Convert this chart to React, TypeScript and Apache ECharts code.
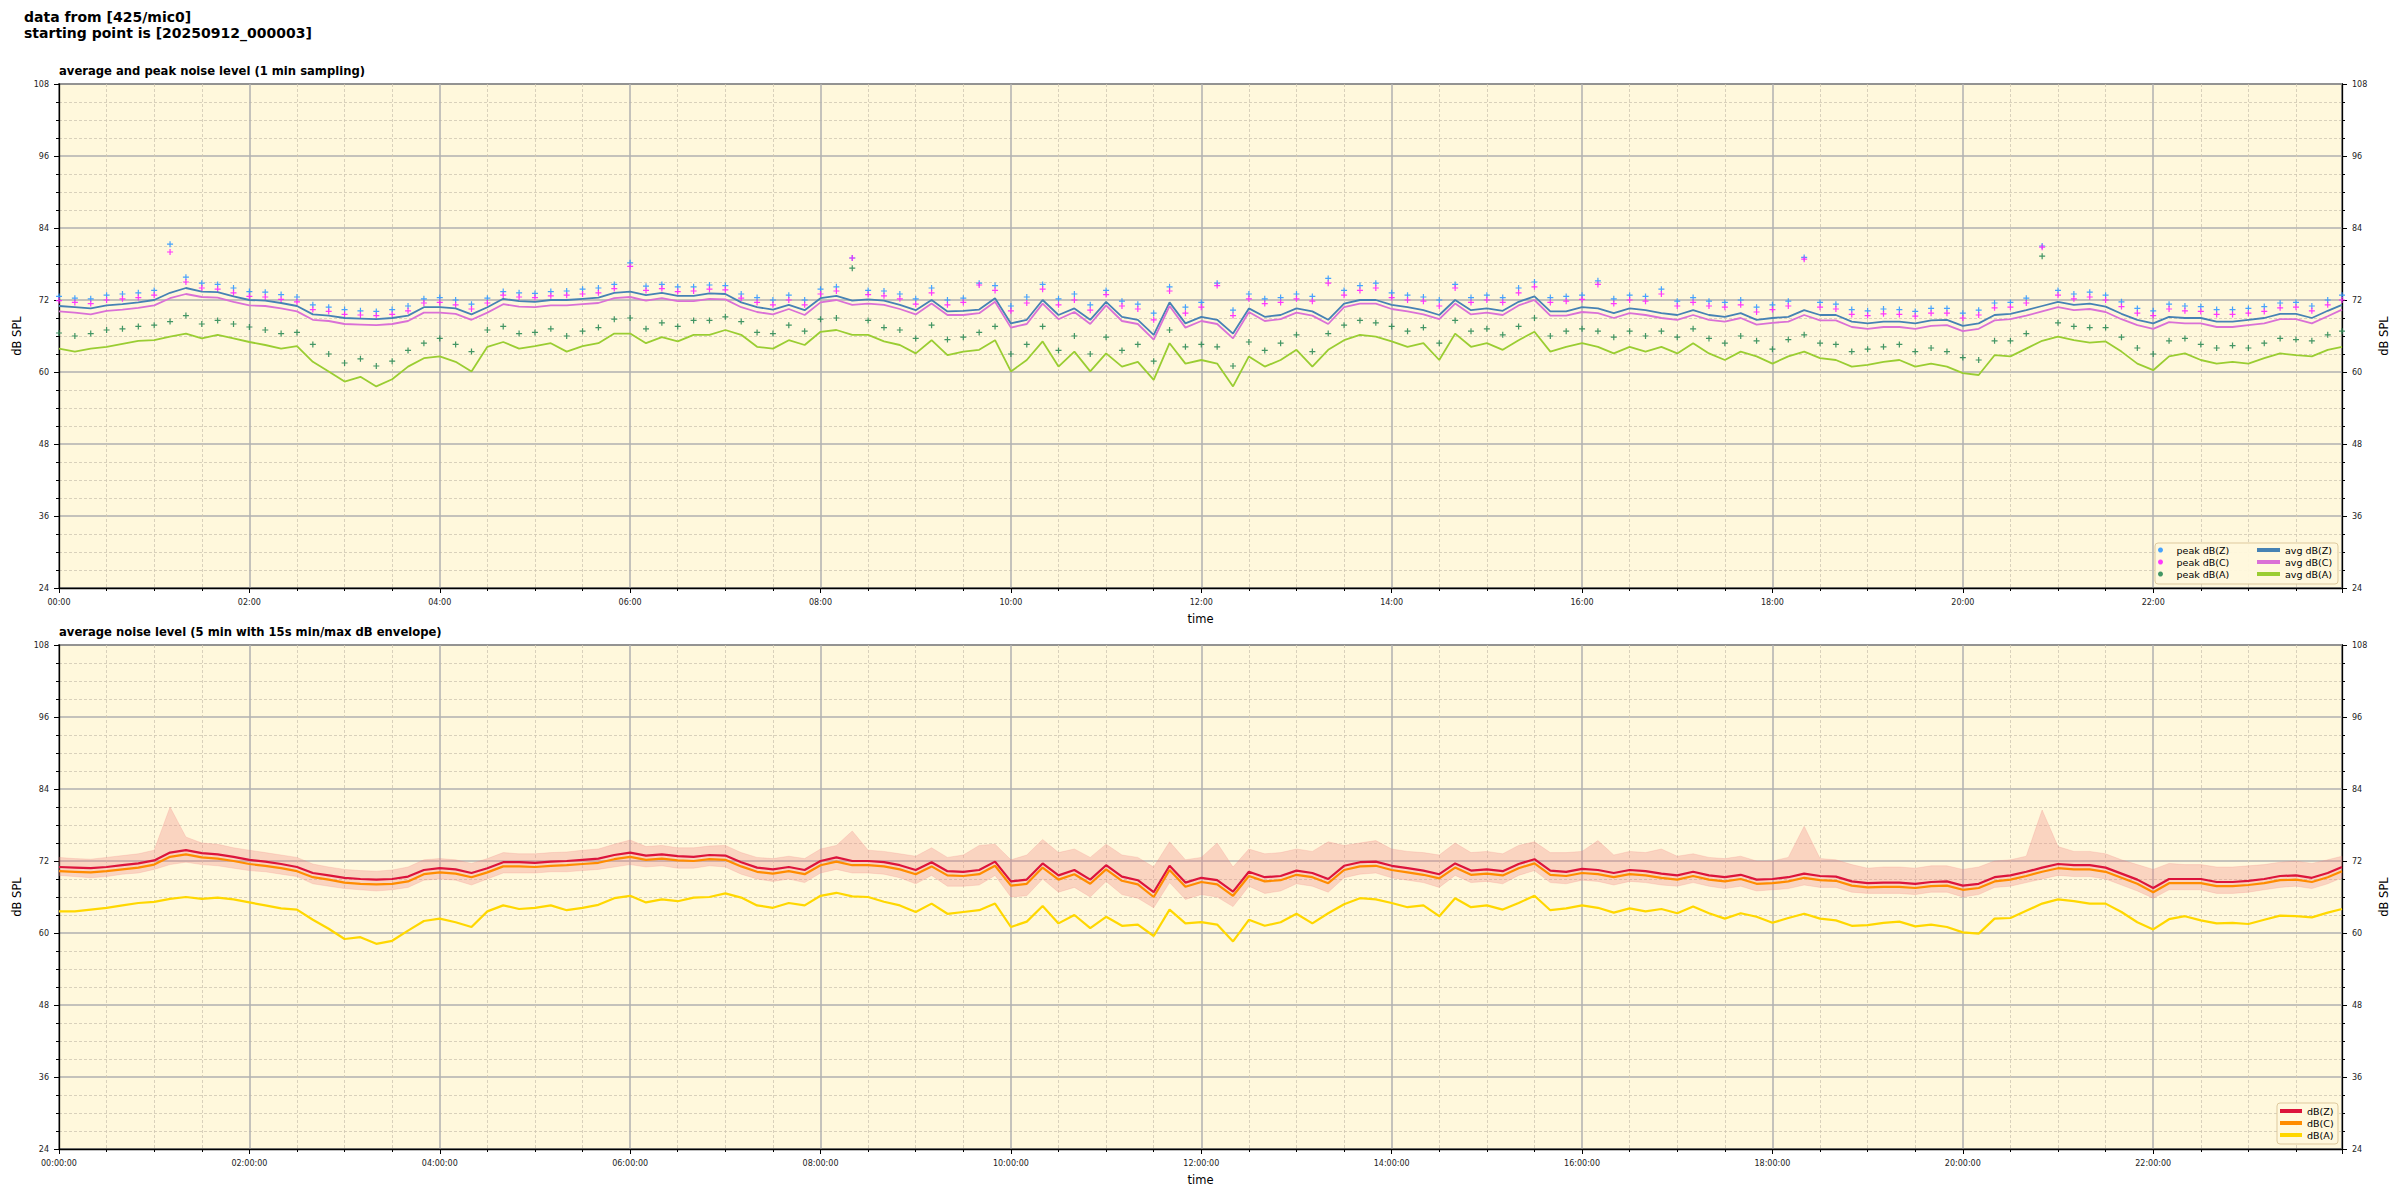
import React, { useEffect, useRef } from "react";
import * as echarts from "echarts";

// ---- data (10-minute steps, 00:00 .. 24:00) ----
const avgZ = [
  71.0, 70.8, 70.6, 71.1, 71.3, 71.6,
  72.0, 73.2, 74.0, 73.4, 73.3, 72.6,
  72.0, 71.9, 71.5, 71.0, 69.6, 69.4,
  69.0, 68.9, 68.8, 69.0, 69.4, 70.8,
  70.8, 70.6, 69.6, 70.8, 72.2, 71.8,
  71.7, 72.0, 72.0, 72.2, 72.4, 73.2,
  73.4, 72.8, 73.2, 72.7, 72.7, 73.1,
  73.0, 71.6, 70.8, 70.4, 71.2, 70.3,
  72.3, 72.7, 71.9, 72.1, 71.9, 71.2,
  70.3, 72.0, 70.1, 70.2, 70.4, 72.3,
  68.1, 68.7, 72.0, 69.5, 70.6, 68.7,
  71.7, 69.2, 68.7, 66.2, 71.6, 68.1,
  69.2, 68.7, 66.4, 70.6, 69.2, 69.5,
  70.6, 70.1, 68.7, 71.4, 72.0, 72.0,
  71.2, 70.8, 70.3, 69.5, 72.0, 70.3,
  70.6, 70.2, 71.7, 72.6, 70.1, 70.1,
  70.8, 70.6, 69.8, 70.6, 70.3, 69.8,
  69.5, 70.3, 69.5, 69.2, 69.8, 68.7,
  69.0, 69.2, 70.3, 69.5, 69.5, 68.4,
  68.1, 68.4, 68.4, 68.1, 68.6, 68.7,
  67.7, 68.1, 69.5, 69.7, 70.3, 71.0,
  71.7, 71.2, 71.4, 70.9, 69.7, 68.7,
  68.1, 69.2, 69.0, 69.0, 68.4, 68.4,
  68.7, 69.0, 69.7, 69.7, 69.0, 70.2,
  71.2,
];
const avgC = [
  70.1, 69.9, 69.6, 70.2, 70.4, 70.7,
  71.1, 72.3, 73.0, 72.5, 72.4, 71.7,
  71.1, 71.0, 70.6, 70.1, 68.7, 68.5,
  68.0, 67.9, 67.8, 68.0, 68.5, 69.9,
  69.9, 69.7, 68.7, 69.9, 71.3, 70.9,
  70.8, 71.1, 71.1, 71.3, 71.5, 72.3,
  72.5, 71.9, 72.3, 71.8, 71.8, 72.2,
  72.1, 70.8, 70.0, 69.6, 70.5, 69.5,
  71.6, 72.0, 71.2, 71.4, 71.2, 70.5,
  69.6, 71.4, 69.5, 69.5, 69.8, 71.7,
  67.4, 68.0, 71.4, 68.8, 70.0, 68.0,
  71.1, 68.5, 68.0, 65.4, 71.0, 67.4,
  68.5, 68.0, 65.6, 70.0, 68.5, 68.8,
  69.9, 69.4, 68.0, 70.8, 71.4, 71.4,
  70.5, 70.1, 69.6, 68.8, 71.4, 69.6,
  69.9, 69.5, 71.1, 72.0, 69.4, 69.4,
  70.0, 69.8, 69.0, 69.8, 69.5, 69.0,
  68.7, 69.5, 68.7, 68.4, 69.0, 67.9,
  68.2, 68.4, 69.5, 68.6, 68.6, 67.5,
  67.2, 67.5, 67.5, 67.2, 67.7, 67.8,
  66.8, 67.2, 68.6, 68.8, 69.4, 70.1,
  70.8, 70.3, 70.5, 70.0, 68.8, 67.8,
  67.2, 68.3, 68.1, 68.1, 67.5, 67.5,
  67.8, 68.1, 68.8, 68.8, 68.1, 69.3,
  70.4,
];
const avgA = [
  63.9, 63.4, 63.9, 64.2, 64.7, 65.2,
  65.3, 65.9, 66.4, 65.6, 66.2, 65.6,
  65.0, 64.5, 63.9, 64.3, 61.7, 60.1,
  58.4, 59.2, 57.6, 58.8, 60.9, 62.3,
  62.6, 61.7, 60.1, 64.2, 65.0, 63.9,
  64.3, 64.8, 63.4, 64.3, 64.8, 66.4,
  66.4, 64.8, 65.8, 65.1, 66.2, 66.2,
  67.0, 66.2, 64.2, 63.9, 65.3, 64.5,
  66.7, 67.0, 66.2, 66.2, 65.1, 64.5,
  63.1, 65.3, 62.8, 63.4, 63.7, 65.3,
  60.1, 62.0, 65.1, 60.9, 63.4, 60.1,
  63.1, 60.9, 61.7, 58.7, 64.8, 61.4,
  62.0, 61.4, 57.6, 62.6, 60.9, 62.0,
  63.7, 60.9, 63.7, 65.3, 66.2, 65.9,
  65.1, 64.2, 64.8, 62.0, 66.4, 64.2,
  64.8, 63.7, 65.3, 66.7, 63.4, 64.2,
  64.8, 64.2, 63.1, 64.2, 63.4, 64.2,
  63.1, 64.8, 63.1, 62.0, 63.4, 62.6,
  61.4, 62.6, 63.4, 62.3, 62.0, 60.9,
  61.2, 61.7, 62.0, 60.9, 61.4, 60.9,
  59.8, 59.5, 62.8, 62.6, 63.9, 65.2,
  65.9, 65.3, 64.9, 65.1, 63.4, 61.4,
  60.3, 62.6, 63.1, 62.0, 61.4, 61.7,
  61.4, 62.3, 63.1, 62.8, 62.6, 63.7,
  64.2,
];
const peakZ = [
  72.6, 72.3, 72.2, 72.8, 73.0, 73.2,
  73.6, 81.3, 75.8, 74.8, 74.6, 74.0,
  73.4, 73.3, 72.9, 72.5, 71.2, 70.8,
  70.4, 70.2, 70.1, 70.4, 71.0, 72.2,
  72.4, 72.0, 71.3, 72.3, 73.4, 73.2,
  73.1, 73.4, 73.5, 73.8, 74.0, 74.6,
  78.2, 74.3, 74.6, 74.2, 74.2, 74.5,
  74.4, 73.0, 72.4, 72.0, 72.8, 72.0,
  73.8, 74.2, 79.0, 73.6, 73.5, 73.0,
  72.2, 74.0, 72.0, 72.3, 74.8, 74.4,
  71.0, 72.5, 74.6, 72.2, 73.0, 71.2,
  73.6, 71.8, 71.3, 69.8, 74.2, 70.8,
  71.6, 74.8, 70.3, 73.0, 72.2, 72.4,
  73.0, 72.6, 75.6, 73.6, 74.4, 74.8,
  73.2, 72.8, 72.5, 72.0, 74.6, 72.4,
  72.8, 72.4, 74.0, 75.0, 72.4, 72.6,
  72.8, 75.2, 72.2, 72.8, 72.6, 73.8,
  71.8, 72.4, 71.8, 71.6, 72.0, 70.8,
  71.2, 71.8, 79.1, 71.6, 71.3, 70.4,
  70.2, 70.5, 70.4, 70.1, 70.6, 70.6,
  69.8, 70.3, 71.5, 71.6, 72.3, 81.0,
  73.6, 73.0, 73.3, 72.8, 71.7, 70.6,
  70.2, 71.3, 71.0, 70.9, 70.4, 70.4,
  70.6, 70.9, 71.5, 71.6, 71.0, 72.0,
  72.8,
];
const peakC = [
  71.9, 71.6, 71.4, 72.0, 72.2, 72.4,
  72.8, 80.0, 75.0, 74.0, 73.8, 73.2,
  72.6, 72.5, 72.1, 71.7, 70.4, 70.1,
  69.6, 69.5, 69.4, 69.6, 70.2, 71.5,
  71.6, 71.2, 70.5, 71.5, 72.8, 72.5,
  72.4, 72.7, 72.8, 73.0, 73.2, 73.9,
  77.6, 73.6, 73.9, 73.4, 73.5, 73.8,
  73.7, 72.3, 71.6, 71.2, 72.0, 71.2,
  73.0, 73.5, 79.0, 72.9, 72.7, 72.2,
  71.3, 73.2, 71.2, 71.6, 74.5, 73.6,
  70.2, 71.5, 73.8, 71.2, 72.0, 70.3,
  72.9, 71.0, 70.5, 68.7, 73.5, 69.8,
  70.8, 74.4, 69.4, 72.2, 71.4, 71.6,
  72.2, 71.8, 74.8, 72.8, 73.6, 74.0,
  72.4, 72.0, 71.8, 71.0, 74.0, 71.6,
  72.0, 71.6, 73.2, 74.2, 71.6, 71.8,
  72.1, 74.6, 71.4, 72.0, 71.8, 73.0,
  71.0, 71.6, 71.0, 70.8, 71.2, 70.0,
  70.4, 71.0, 78.8, 70.8, 70.5, 69.6,
  69.4, 69.7, 69.6, 69.3, 69.8, 69.8,
  69.0, 69.5, 70.7, 70.8, 71.5, 80.8,
  72.8, 72.2, 72.5, 72.0, 70.9, 69.8,
  69.4, 70.5, 70.2, 70.1, 69.6, 69.6,
  69.8, 70.1, 70.7, 70.8, 70.2, 71.2,
  72.0,
];
const peakA = [
  66.5, 66.0, 66.4, 67.0, 67.2, 67.6,
  67.8, 68.4, 69.4, 68.0, 68.6, 68.0,
  67.5, 67.0, 66.4, 66.6, 64.6, 63.0,
  61.5, 62.2, 61.0, 61.8, 63.6, 64.8,
  65.6, 64.6, 63.4, 67.0, 67.6, 66.4,
  66.6, 67.2, 66.0, 66.8, 67.4, 68.8,
  69.0, 67.2, 68.2, 67.6, 68.6, 68.6,
  69.2, 68.4, 66.6, 66.4, 67.8, 66.8,
  68.8, 69.0, 77.3, 68.6, 67.4, 67.0,
  65.6, 67.8, 65.4, 65.8, 66.6, 67.6,
  63.0, 64.6, 67.6, 63.6, 66.0, 63.0,
  65.8, 63.6, 64.6, 61.8, 67.0, 64.2,
  64.6, 64.2, 61.0, 65.0, 63.6, 64.8,
  66.2, 63.4, 66.4, 67.8, 68.6, 68.2,
  67.6, 66.8, 67.4, 64.8, 68.6, 66.8,
  67.2, 66.2, 67.6, 69.0, 66.0, 66.8,
  67.2, 66.8, 65.8, 66.8, 66.0, 66.8,
  65.8, 67.2, 65.6, 64.8, 66.0, 65.2,
  63.8, 65.4, 66.2, 64.8, 64.6, 63.4,
  63.8, 64.2, 64.6, 63.4, 64.0, 63.4,
  62.4, 62.0, 65.2, 65.2, 66.4, 79.3,
  68.2, 67.6, 67.4, 67.4, 65.8, 64.0,
  63.0, 65.2, 65.6, 64.6, 64.0, 64.4,
  64.0, 64.8, 65.6, 65.4, 65.2, 66.2,
  66.8,
];

const z5 = [
  71.0, 70.9, 70.8, 71.0, 71.3, 71.6,
  72.1, 73.4, 73.8, 73.3, 73.1, 72.7,
  72.2, 71.9, 71.5, 71.0, 70.0, 69.6,
  69.2, 69.0, 68.9, 69.0, 69.4, 70.5,
  70.8, 70.6, 70.0, 70.8, 71.8, 71.8,
  71.7, 71.9, 72.0, 72.2, 72.4, 73.0,
  73.4, 72.9, 73.1, 72.8, 72.7, 73.0,
  72.9, 71.8, 70.9, 70.6, 71.0, 70.5,
  72.0, 72.6, 72.0, 72.0, 71.8, 71.3,
  70.5, 71.8, 70.3, 70.2, 70.5, 71.9,
  68.6, 68.9, 71.6, 69.6, 70.5, 68.9,
  71.3, 69.4, 68.8, 66.8, 71.2, 68.4,
  69.2, 68.8, 66.9, 70.2, 69.3, 69.5,
  70.4, 70.0, 69.0, 71.2, 71.8, 71.9,
  71.2, 70.8, 70.4, 69.8, 71.6, 70.4,
  70.6, 70.3, 71.5, 72.3, 70.4, 70.2,
  70.7, 70.5, 70.0, 70.5, 70.3, 69.9,
  69.6, 70.2, 69.6, 69.3, 69.7, 68.9,
  69.0, 69.3, 69.9, 69.5, 69.4, 68.6,
  68.3, 68.4, 68.4, 68.2, 68.5, 68.6,
  67.9, 68.2, 69.3, 69.6, 70.2, 70.9,
  71.5, 71.3, 71.3, 70.9, 69.9, 68.9,
  67.5, 69.0, 69.0, 69.0, 68.5, 68.5,
  68.7, 69.0, 69.5, 69.6, 69.2, 70.0,
  71.0,
];
const c5 = [
  70.3, 70.2, 70.1, 70.3, 70.6, 70.9,
  71.4, 72.7, 73.1, 72.6, 72.4, 72.0,
  71.5, 71.2, 70.8, 70.3, 69.3, 68.9,
  68.4, 68.2, 68.1, 68.2, 68.6, 69.8,
  70.1, 69.9, 69.3, 70.1, 71.1, 71.1,
  71.0, 71.2, 71.3, 71.5, 71.7, 72.3,
  72.7, 72.2, 72.4, 72.1, 72.0, 72.3,
  72.2, 71.1, 70.2, 69.9, 70.3, 69.8,
  71.3, 71.9, 71.3, 71.3, 71.1, 70.6,
  69.8, 71.1, 69.6, 69.5, 69.8, 71.2,
  67.9, 68.2, 70.9, 68.9, 69.8, 68.2,
  70.6, 68.7, 68.1, 66.0, 70.5, 67.7,
  68.5, 68.1, 66.2, 69.5, 68.6, 68.8,
  69.7, 69.3, 68.3, 70.5, 71.1, 71.2,
  70.5, 70.1, 69.7, 69.1, 70.9, 69.7,
  69.9, 69.6, 70.8, 71.6, 69.7, 69.5,
  70.0, 69.8, 69.3, 69.8, 69.6, 69.2,
  68.9, 69.5, 68.9, 68.6, 69.0, 68.2,
  68.3, 68.6, 69.2, 68.8, 68.7, 67.9,
  67.6, 67.7, 67.7, 67.5, 67.8, 67.9,
  67.2, 67.5, 68.6, 68.9, 69.5, 70.2,
  70.8, 70.6, 70.6, 70.2, 69.2, 68.2,
  66.8, 68.3, 68.3, 68.3, 67.8, 67.8,
  68.0, 68.3, 68.8, 68.9, 68.5, 69.3,
  70.3,
];
const a5 = [
  63.6, 63.6, 63.9, 64.2, 64.6, 65.0,
  65.2, 65.7, 66.0, 65.7, 65.9, 65.6,
  65.1, 64.6, 64.1, 63.9, 62.2, 60.7,
  59.0, 59.3, 58.2, 58.7, 60.4, 62.0,
  62.4, 61.8, 61.0, 63.6, 64.6, 64.0,
  64.2, 64.6, 63.8, 64.2, 64.7, 65.8,
  66.2, 65.1, 65.6, 65.3, 65.9, 66.0,
  66.6, 65.9, 64.6, 64.2, 65.0, 64.6,
  66.2, 66.7, 66.1, 66.0, 65.2, 64.6,
  63.5, 64.9, 63.2, 63.5, 63.8, 64.9,
  61.0, 61.9, 64.5, 61.6, 63.0, 60.8,
  62.7, 61.2, 61.4, 59.5, 63.9, 61.6,
  61.8, 61.4, 58.6, 62.2, 61.2, 61.8,
  63.2, 61.6, 63.3, 64.8, 65.8, 65.6,
  65.0, 64.3, 64.6, 62.8, 65.8, 64.3,
  64.6, 63.9, 65.0, 66.2, 63.8, 64.1,
  64.6, 64.2, 63.4, 64.1, 63.6, 64.0,
  63.3, 64.4, 63.3, 62.4, 63.3, 62.7,
  61.7, 62.5, 63.2, 62.4, 62.1, 61.2,
  61.3, 61.7, 61.9, 61.1, 61.4, 61.0,
  60.1, 59.9, 62.4, 62.5, 63.7, 64.9,
  65.6, 65.3, 64.9, 64.9, 63.5, 61.8,
  60.6, 62.3, 62.8, 62.1, 61.6, 61.7,
  61.5, 62.2, 62.9, 62.8, 62.6, 63.4,
  64.0,
];
const envMax = [
  72.6, 72.4, 72.3, 72.6, 72.9, 73.2,
  73.8, 81.0, 76.0, 75.0, 74.8, 74.2,
  73.8, 73.4, 73.0, 72.6, 71.5, 71.0,
  70.6, 70.4, 70.3, 70.5, 71.0, 72.2,
  72.4, 72.2, 71.6, 72.4, 73.4, 73.2,
  73.2, 73.4, 73.5, 73.8, 74.0, 74.8,
  75.5, 74.4, 74.6, 74.2, 74.2, 74.5,
  74.6, 73.4, 72.6, 72.4, 72.8, 72.4,
  74.0, 74.6, 77.0, 73.8, 73.6, 73.2,
  72.8, 74.2, 72.6, 73.0, 74.6, 74.8,
  72.2, 73.0, 75.6, 73.4, 74.0, 72.6,
  74.8, 73.0, 72.6, 71.0, 75.2, 72.2,
  72.6, 75.0, 71.0, 74.0, 73.2, 73.4,
  74.0, 73.6, 75.2, 74.6, 75.0, 75.4,
  74.0, 73.6, 73.4, 73.0, 75.0, 73.4,
  73.6, 73.2, 74.6, 75.2, 73.4, 73.4,
  73.6, 75.4, 73.0, 73.6, 73.4, 74.0,
  72.8, 73.2, 72.6, 72.4, 72.8, 72.0,
  72.0, 72.6, 77.8, 72.4, 72.2, 71.4,
  70.8, 71.0, 71.0, 70.8, 71.2, 71.2,
  70.6, 71.0, 72.0, 72.2, 72.8, 80.5,
  74.4, 73.6, 73.6, 73.2, 72.2, 71.4,
  70.6, 71.6, 71.4, 71.4, 71.0, 71.0,
  71.2, 71.4, 71.8, 72.0, 71.6, 72.2,
  72.8,
];
const envMin = [
  69.6, 69.4, 69.2, 69.4, 69.8, 70.0,
  70.6, 71.4, 71.8, 71.4, 71.2, 70.8,
  70.4, 70.2, 69.8, 69.4, 68.2, 67.8,
  67.4, 67.2, 67.0, 67.2, 67.6, 68.8,
  69.0, 68.8, 68.0, 69.0, 70.0, 70.0,
  70.0, 70.2, 70.2, 70.4, 70.6, 71.0,
  71.4, 71.0, 71.2, 70.8, 70.8, 71.2,
  71.0, 69.8, 69.0, 68.6, 69.0, 68.4,
  70.0, 70.6, 70.0, 70.0, 69.8, 69.2,
  68.2, 69.6, 67.8, 67.8, 68.0, 69.6,
  66.0, 66.2, 69.0, 66.8, 67.6, 66.0,
  68.6, 66.4, 65.8, 64.2, 68.4, 65.6,
  66.4, 66.0, 64.4, 67.8, 66.6, 67.0,
  68.2, 67.8, 66.8, 69.2, 69.8, 70.0,
  69.2, 68.8, 68.4, 67.6, 69.6, 68.4,
  68.6, 68.2, 69.6, 70.4, 68.4, 68.2,
  68.8, 68.6, 68.0, 68.6, 68.4, 68.0,
  67.8, 68.4, 67.8, 67.4, 67.8, 67.0,
  67.2, 67.4, 68.0, 67.6, 67.6, 66.8,
  66.6, 66.6, 66.6, 66.4, 66.8, 66.8,
  66.0, 66.4, 67.6, 67.8, 68.4, 69.0,
  69.6, 69.4, 69.4, 69.0, 68.0, 67.0,
  65.8, 67.2, 67.2, 67.2, 66.6, 66.6,
  66.8, 67.2, 67.6, 67.8, 67.4, 68.2,
  69.2,
];

const yTicks = { min: 24, max: 108, step: 12 };
const xRange = { min: 0, max: 1439, step: 120 }; // minutes
const STEP_MIN = 10;

// ---- helpers ----
const times = avgZ.map((_, i) => Math.min(i * STEP_MIN, xRange.max));
const pairs = (arr: number[]) => arr.map((v, i) => [times[i], v]);
const pad2 = (n: number) => String(n).padStart(2, "0");
const fmtHM = (v: number) => (v % 120 === 0 ? `${pad2(v / 60)}:00` : "");
const fmtHMS = (v: number) => (v % 120 === 0 ? `${pad2(v / 60)}:00:00` : "");

const FONT = "DejaVu Sans";
const BG = "#fff8dc";
const PLUS = "path://M4,0H6V4H10V6H6V10H4V6H0V4H4Z";

const GRID_LEFT = 59;
const GRID_W = 2283;
const GRID_H = 504;
const TOP1 = 84;
const TOP2 = 645;

function xAxisCfg(gridIndex: number, fmt: (v: number) => string) {
  return {
    type: "value",
    gridIndex,
    min: xRange.min,
    max: xRange.max,
    interval: xRange.step,
    axisLine: { show: true, onZero: false, lineStyle: { color: "#000", width: 1.3 } },
    axisTick: { show: true, length: 5, lineStyle: { color: "#000", width: 1 } },
    minorTick: { show: true, splitNumber: 4, length: 3, lineStyle: { color: "#000", width: 1 } },
    splitLine: { show: true, lineStyle: { color: "#b0b0b0", width: 1.5 } },
    minorSplitLine: { show: true, lineStyle: { color: "#cfc6b3", width: 0.8, type: [3, 2] } },
    axisLabel: { formatter: fmt, fontSize: 8, color: "#222", margin: 10, fontFamily: FONT },
    name: "time",
    nameLocation: "middle",
    nameGap: 25,
    nameTextStyle: { fontSize: 11.5, color: "#000", fontFamily: FONT },
  };
}

function yAxisCfg(gridIndex: number, position: "left" | "right") {
  return {
    type: "value",
    gridIndex,
    position,
    min: yTicks.min,
    max: yTicks.max,
    interval: yTicks.step,
    axisLine: { show: true, onZero: false, lineStyle: { color: "#000", width: 1.3 } },
    axisTick: { show: true, length: 5, lineStyle: { color: "#000", width: 1 } },
    minorTick: { show: true, splitNumber: 4, length: 3, lineStyle: { color: "#000", width: 1 } },
    splitLine: { show: position === "left", lineStyle: { color: "#b0b0b0", width: 1.5 } },
    minorSplitLine: {
      show: position === "left",
      lineStyle: { color: "#cfc6b3", width: 0.8, type: [3, 2] },
    },
    axisLabel: { fontSize: 8, color: "#222", margin: 10, fontFamily: FONT },
    name: "dB SPL",
    nameLocation: "middle",
    nameRotate: 90,
    nameGap: position === "left" ? 31 : 31,
    nameTextStyle: { fontSize: 11.5, color: "#000", fontFamily: FONT },
  };
}

export default function App() {
  const ref = useRef<HTMLDivElement>(null);

  useEffect(() => {
    document.body.style.margin = "0";
    if (!ref.current) return;
    const chart = echarts.init(ref.current, null, { renderer: "svg" });

    const envData = envMax.map((v, i) => [times[i], envMin[i], v]);

    const scatter = (name: string, data: number[], color: string) => ({
      name,
      type: "scatter",
      xAxisIndex: 0,
      yAxisIndex: 0,
      data: pairs(data),
      symbol: PLUS,
      symbolSize: 6,
      itemStyle: { color, opacity: 0.9 },
      z: 2,
    });
    const line = (
      name: string,
      data: number[],
      color: string,
      width: number,
      axis: number,
      z = 3
    ) => ({
      name,
      type: "line",
      xAxisIndex: axis,
      yAxisIndex: axis * 2,
      data: pairs(data),
      showSymbol: false,
      symbol: "none",
      lineStyle: { color, width },
      itemStyle: { color },
      z,
    });

    const legendText = { fontSize: 9.5, color: "#000", lineHeight: 12, fontFamily: FONT };

    const option = {
      animation: false,
      textStyle: { fontFamily: FONT },
      title: [
        {
          text: "data from [425/mic0]\nstarting point is [20250912_000003]",
          left: 24,
          top: 9,
          padding: 0,
          textStyle: { fontSize: 14, fontWeight: "bold", color: "#000", lineHeight: 16, fontFamily: FONT },
        },
        {
          text: "average and peak noise level (1 min sampling)",
          left: GRID_LEFT,
          top: 65,
          padding: 0,
          textStyle: { fontSize: 11.6, fontWeight: "bold", color: "#000", fontFamily: FONT },
        },
        {
          text: "average noise level (5 min with 15s min/max dB envelope)",
          left: GRID_LEFT,
          top: 626,
          padding: 0,
          textStyle: { fontSize: 11.6, fontWeight: "bold", color: "#000", fontFamily: FONT },
        },
      ],
      grid: [
        {
          left: GRID_LEFT, top: TOP1, width: GRID_W, height: GRID_H,
          show: true, backgroundColor: BG, borderColor: "#000", borderWidth: 1.3,
        },
        {
          left: GRID_LEFT, top: TOP2, width: GRID_W, height: GRID_H,
          show: true, backgroundColor: BG, borderColor: "#000", borderWidth: 1.3,
        },
      ],
      xAxis: [xAxisCfg(0, fmtHM), xAxisCfg(1, fmtHMS)],
      yAxis: [yAxisCfg(0, "left"), yAxisCfg(0, "right"), yAxisCfg(1, "left"), yAxisCfg(1, "right")],
      legend: [
        {
          left: 2158, top: 544, orient: "vertical", padding: 0, itemGap: 0,
          itemWidth: 22, itemHeight: 5, selectedMode: false, z: 10,
          textStyle: legendText,
          data: [
            { name: "peak dB(Z)", icon: "circle" },
            { name: "peak dB(C)", icon: "circle" },
            { name: "peak dB(A)", icon: "circle" },
          ],
        },
        {
          left: 2257, top: 544, orient: "vertical", padding: 0, itemGap: 0,
          itemWidth: 23, itemHeight: 4, selectedMode: false, z: 10,
          textStyle: legendText,
          data: [
            { name: "avg dB(Z)", icon: "rect" },
            { name: "avg dB(C)", icon: "rect" },
            { name: "avg dB(A)", icon: "rect" },
          ],
        },
        {
          left: 2280, top: 1105, orient: "vertical", padding: 0, itemGap: 0,
          itemWidth: 22, itemHeight: 4, selectedMode: false, z: 10,
          textStyle: legendText,
          data: [
            { name: "dB(Z)", icon: "rect" },
            { name: "dB(C)", icon: "rect" },
            { name: "dB(A)", icon: "rect" },
          ],
        },
      ],
      graphic: [
        {
          type: "rect", z: 9,
          shape: { x: 2155, y: 543, width: 183, height: 41, r: 3 },
          style: { fill: BG, stroke: "#dcc79a", lineWidth: 1, opacity: 0.95 },
        },
        {
          type: "rect", z: 9,
          shape: { x: 2277, y: 1103, width: 61, height: 41, r: 3 },
          style: { fill: BG, stroke: "#dcc79a", lineWidth: 1, opacity: 0.95 },
        },
      ],
      series: [
        scatter("peak dB(Z)", peakZ, "#3399ff"),
        scatter("peak dB(C)", peakC, "#ff22ff"),
        scatter("peak dB(A)", peakA, "#2e8b57"),
        line("avg dB(Z)", avgZ, "#4682b4", 1.8, 0),
        line("avg dB(C)", avgC, "#da70d6", 1.8, 0),
        line("avg dB(A)", avgA, "#9acd32", 1.8, 0),
        {
          name: "envelope",
          type: "custom",
          xAxisIndex: 1,
          yAxisIndex: 2,
          data: envData,
          encode: { x: 0, y: [1, 2] },
          z: 1,
          silent: true,
          renderItem: (params: any, api: any) => {
            if (params.dataIndex !== 0) return null;
            const upper = envData.map((d) => api.coord([d[0], d[2]]));
            const lower = envData.map((d) => api.coord([d[0], d[1]])).reverse();
            return {
              type: "polygon",
              shape: { points: upper.concat(lower) },
              style: { fill: "rgba(240,128,128,0.3)", stroke: "rgba(240,128,128,0.35)", lineWidth: 0.6 },
            };
          },
        },
        line("dB(Z)", z5, "#dc143c", 2.2, 1),
        line("dB(C)", c5, "#ff8c00", 2.2, 1),
        line("dB(A)", a5, "#ffd700", 2.2, 1),
      ],
    };

    chart.setOption(option as any);
    return () => chart.dispose();
  }, []);

  return <div ref={ref} style={{ width: 2400, height: 1200 }} />;
}
